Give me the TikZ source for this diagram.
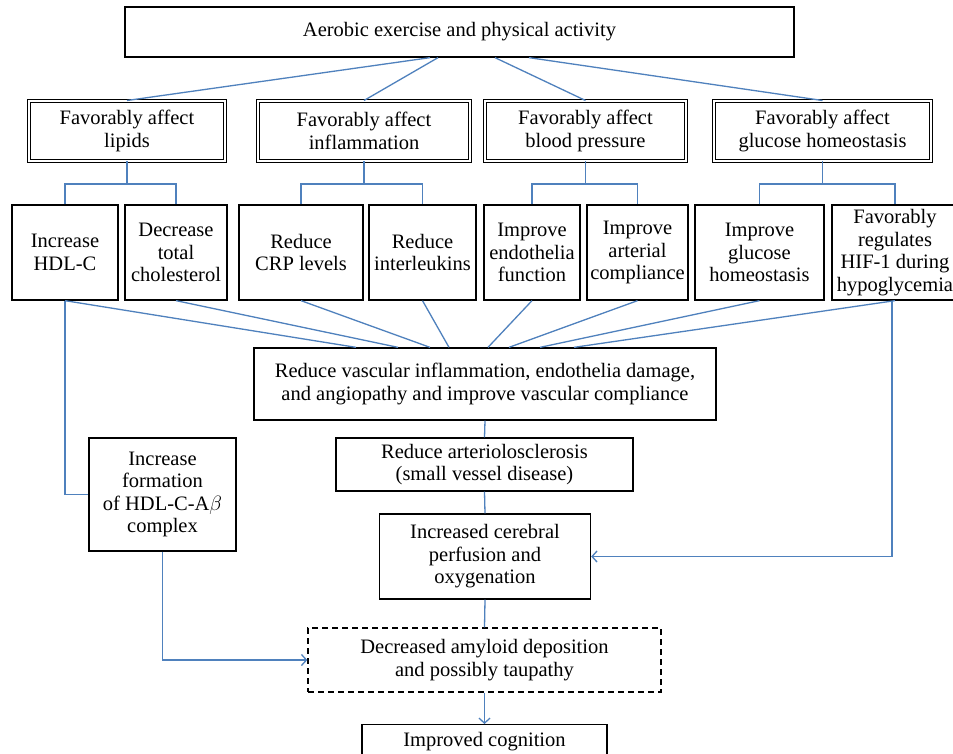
\documentclass[tikz,border=0pt]{standalone}
\usepackage{fontspec}
\setmainfont{Liberation Serif}
\usetikzlibrary{arrows.meta,calc}
\definecolor{linkblue}{RGB}{79,129,189}
\tikzset{
  box/.style={draw=black, line width=1.3pt, rectangle, inner sep=0pt, align=center, font=\fontsize{20.5}{22.5}\selectfont},
  dbox/.style={box, double, double distance=1.6pt, line width=1pt},
  dashbox/.style={box, dash pattern=on 6pt off 4pt},
  link/.style={draw=linkblue, line width=1.3pt},
  arr/.style={link, -{Straight Barb[length=5pt,width=11pt]}},
}
\begin{document}
\begin{tikzpicture}[x=1pt,y=-1pt]
\useasboundingbox (0,0) rectangle (953,754);
\fill[white] (0,0) rectangle (953,754);
% top
\node[box, minimum width=669, minimum height=50] (top) at (459.5,32) {Aerobic exercise and physical activity};
% level 2
\node[dbox, minimum width=196, minimum height=60] (lip) at (127,131) {Favorably affect\\lipids};
\node[dbox, minimum width=212, minimum height=60] (inf) at (364,131) {Favorably affect\\inflammation};
\node[dbox, minimum width=201, minimum height=60] (bp) at (585.5,131) {Favorably affect\\blood pressure};
\node[dbox, minimum width=217, minimum height=60] (glu) at (822.5,131) {Favorably affect\\glucose homeostasis};
% level 3
\node[box, minimum width=106, minimum height=95] (hdl) at (65,252.5) {Increase\\HDL-C};
\node[box, minimum width=102, minimum height=95] (chol) at (176,252.5) {Decrease\\total\\cholesterol};
\node[box, minimum width=124, minimum height=95] (crp) at (301,252.5) {Reduce\\CRP levels};
\node[box, minimum width=107, minimum height=95] (il) at (422.5,252.5) {Reduce\\interleukins};
\node[box, minimum width=96, minimum height=95] (endo) at (532,252.5) {Improve\\endothelia\\function};
\node[box, minimum width=101, minimum height=95] (art) at (637.5,252.5) {Improve\\arterial\\compliance};
\node[box, minimum width=129, minimum height=95] (gluc) at (759.5,252.5) {Improve\\glucose\\homeostasis};
\node[box, minimum width=126, minimum height=95] (hif) at (895,252.5) {Favorably\\regulates\\HIF-1 during\\hypoglycemia};
% lower
\node[box, minimum width=462, minimum height=72] (vasc) at (485,384) {Reduce vascular inflammation, endothelia damage,\\and angiopathy and improve vascular compliance};
\node[box, minimum width=147, minimum height=113] (hab) at (162.5,494.5) {Increase\\formation\\of HDL-C-A$\beta$\\complex};
\node[box, minimum width=297, minimum height=53] (arte) at (484.5,464.5) {Reduce arteriolosclerosis\\(small vessel disease)};
\node[box, minimum width=211, minimum height=85] (cere) at (485,556.5) {Increased cerebral\\perfusion and\\oxygenation};
\node[dashbox, minimum width=353, minimum height=64] (amy) at (484.5,660) {Decreased amyloid deposition\\and possibly taupathy};
\node[box, minimum width=245, minimum height=34, anchor=north] (cog) at (484.5,724) {Improved cognition};
% top connectors
\draw[link] ($(top.south)+(-29.5,0)$) -- (lip.north);
\draw[link] ($(top.south)+(-21.5,0)$) -- (inf.north);
\draw[link] ($(top.south)+(35.5,0)$) -- (bp.north);
\draw[link] ($(top.south)+(69.5,0)$) -- (glu.north);
% brackets
\coordinate (b1) at (127,184);
\coordinate (b2) at (364,184);
\coordinate (b3) at (585.5,184);
\coordinate (b4) at (822.5,184);
\draw[link] (lip.south) -- (b1);
\draw[link] (hdl.north) |- (b1) -| (chol.north);
\draw[link] (inf.south) -- (b2);
\draw[link] (crp.north) |- (b2) -| (il.north);
\draw[link] (bp.south) -- (b3);
\draw[link] (endo.north) |- (b3) -| (art.north);
\draw[link] (glu.south) -- (b4);
\draw[link] (gluc.north) |- (b4) -| (hif.north);
% to vascular
\draw[link] (hdl.south) -- ($(vasc.north)+(-129,0)$);
\draw[link] (chol.south) -- ($(vasc.north)+(-87,0)$);
\draw[link] (crp.south) -- ($(vasc.north)+(-55,0)$);
\draw[link] (il.south) -- ($(vasc.north)+(-36,0)$);
\draw[link] (endo.south) -- ($(vasc.north)+(3,0)$);
\draw[link] (art.south) -- ($(vasc.north)+(24,0)$);
\draw[link] (gluc.south) -- ($(vasc.north)+(55,0)$);
\draw[link] (hif.south) -- ($(vasc.north)+(89,0)$);
% other links
\draw[link] (hdl.south) |- (hab.west);
\draw[link] (vasc.south) -- (arte.north);
\draw[link] (arte.south) -- (cere.north);
\draw[arr] ($(hif.south)+(-3,0)$) |- (cere.east);
\draw[link] (cere.south) -- (amy.north);
\draw[arr] (hab.south) |- (amy.west);
\draw[arr] (amy.south) -- (cog.north);
\end{tikzpicture}
\end{document}
